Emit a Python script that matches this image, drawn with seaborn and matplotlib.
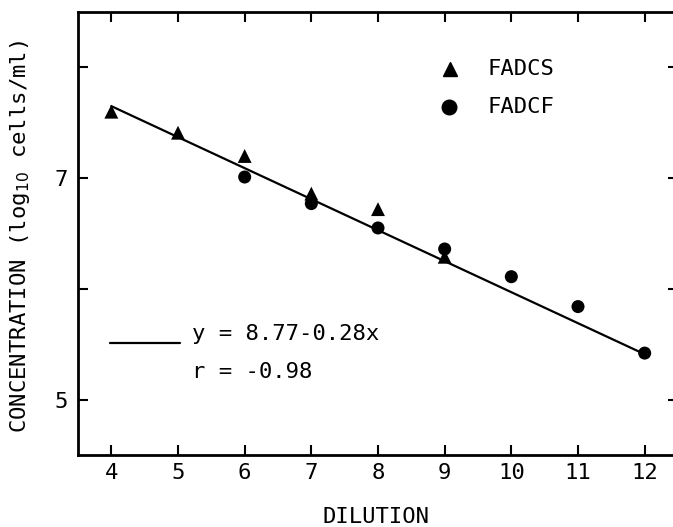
import numpy as np
import pandas as pd
import matplotlib
matplotlib.use("Agg")
import matplotlib.pyplot as plt
from matplotlib.lines import Line2D
import seaborn as sns

# Data
fadcs_dilution = [4, 5, 6, 7, 8, 9]
fadcs_conc = [7.60, 7.41, 7.20, 6.86, 6.72, 6.29]
fadcf_dilution = [6, 7, 8, 9, 10, 11, 12]
fadcf_conc = [7.01, 6.77, 6.55, 6.36, 6.11, 5.84, 5.42]
fit_intercept = 8.77
fit_slope = -0.28
fit_range = [4, 12]
x_ticks = [4, 5, 6, 7, 8, 9, 10, 11, 12]
y_ticks = [5, 6, 7, 8]
y_tick_labels = ["5", "", "7", ""]
series_names = ["FADCS", "FADCF"]
fit_label_1 = "y = 8.77-0.28x"
fit_label_2 = "r = -0.98"

sns.set_theme(style="ticks")
plt.rcParams['font.family'] = ['DejaVu Sans Mono', 'DejaVu Sans']
plt.rcParams['text.color'] = 'black'
plt.rcParams['axes.labelcolor'] = 'black'
FS = 16

df = pd.DataFrame({
    "dilution": fadcs_dilution + fadcf_dilution,
    "conc": fadcs_conc + fadcf_conc,
    "method": [series_names[0]] * len(fadcs_dilution) + [series_names[1]] * len(fadcf_dilution),
})
fit_x = np.array(fit_range, dtype=float)
fit_df = pd.DataFrame({"dilution": fit_x, "conc": fit_intercept + fit_slope * fit_x})

fig = plt.figure(figsize=(6.73, 5.27), dpi=100)
ax = fig.add_axes([78/673, (527-455)/527, (678-78)/673, (455-12)/527])

sns.lineplot(data=fit_df, x="dilution", y="conc", color="black", linewidth=1.6, ax=ax, legend=False)
sns.scatterplot(data=df, x="dilution", y="conc", style="method", size="method",
                markers={"FADCS": "^", "FADCF": "o"},
                sizes={"FADCS": 100, "FADCF": 88}, color="black",
                edgecolor="black", linewidth=0, ax=ax, legend=False, zorder=3)

ax.set_xlim(3.5, 12.5)
ax.set_ylim(4.5, 8.5)
ax.set_xticks(x_ticks)
ax.set_xticklabels([str(t) for t in x_ticks])
ax.set_yticks(y_ticks)
ax.set_yticklabels(y_tick_labels)
ax.tick_params(direction="in", length=7, width=1.5, top=True, right=True,
               labelsize=FS, colors="black")
ax.tick_params(axis="x", pad=6)
ax.tick_params(axis="y", pad=7)
for sp in ax.spines.values():
    sp.set_linewidth(2)
    sp.set_color("black")

ax.set_xlabel("DILUTION", fontsize=FS, va="bottom", color="black")
ax.xaxis.set_label_coords(0.497, -0.1625)
ax.set_ylabel("CONCENTRATION (log$_{10}$ cells/ml)", fontsize=FS, color="black")
ax.yaxis.set_label_coords(-0.077, 0.494)

# Legend (series markers)
tr = ax.transAxes
ax.add_line(Line2D([0.62], [0.871], marker="^", color="black", markersize=10,
                   linestyle="none", transform=tr, clip_on=False))
ax.add_line(Line2D([0.619], [0.786], marker="o", color="black", markersize=10.5,
                   linestyle="none", transform=tr, clip_on=False))
ax.text(0.682, 0.871, series_names[0], transform=tr, fontsize=FS, va="center", ha="left", color="black")
ax.text(0.682, 0.786, series_names[1], transform=tr, fontsize=FS, va="center", ha="left", color="black")

# Regression key
ax.add_line(Line2D([0.053, 0.17], [0.253, 0.253], color="black", linewidth=1.6, transform=tr))
ax.text(0.19, 0.273, fit_label_1, transform=tr, fontsize=FS, va="center", ha="left", color="black")
ax.text(0.19, 0.187, fit_label_2, transform=tr, fontsize=FS, va="center", ha="left", color="black")

fig.savefig("out.png", dpi=100)
